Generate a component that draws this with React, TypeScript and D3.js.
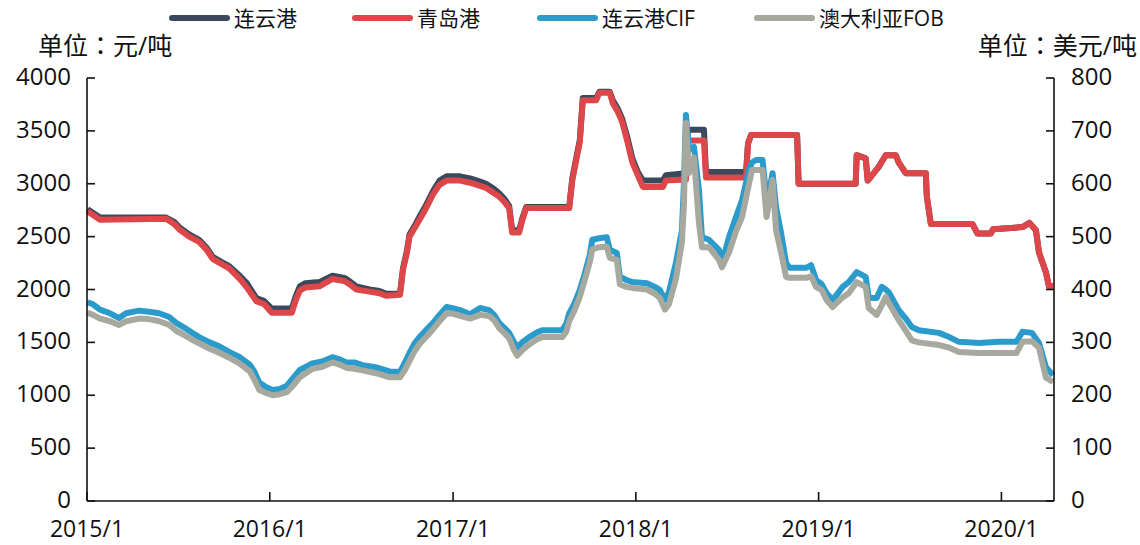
import React from 'react';
import * as d3 from 'd3';

// ---------- data ----------
const domesticDates = [
  '2015-01-02','2015-01-27','2015-06-08','2015-06-24','2015-07-04','2015-07-24','2015-08-13','2015-08-27',
  '2015-09-09','2015-09-27','2015-10-12','2015-11-02','2015-11-16','2015-12-05','2015-12-21','2016-01-05',
  '2016-02-14','2016-02-22','2016-03-01','2016-03-12','2016-04-09','2016-05-05','2016-05-29','2016-06-08',
  '2016-06-22','2016-07-18','2016-08-07','2016-08-21','2016-09-17','2016-09-23','2016-10-01','2016-10-06',
  '2016-10-16','2016-10-26','2016-11-06','2016-11-22','2016-12-05','2016-12-19','2017-01-15','2017-02-04',
  '2017-02-24','2017-03-08','2017-03-24','2017-04-03','2017-04-13','2017-04-23','2017-04-29','2017-05-13',
  '2017-05-19','2017-05-27','2017-08-21','2017-08-27','2017-09-05','2017-09-11','2017-09-17','2017-10-14',
  '2017-10-20','2017-11-10','2017-11-16','2017-11-26','2017-12-05','2017-12-15','2017-12-25','2018-01-05',
  '2018-01-15','2018-02-24','2018-03-02','2018-04-11','2018-04-15','2018-05-17','2018-05-21','2018-08-09',
  '2018-08-13','2018-08-19','2018-11-19','2018-11-22','2019-03-16','2019-03-18','2019-04-05','2019-04-09',
  '2019-05-01','2019-05-15','2019-06-04','2019-06-10','2019-06-24','2019-08-03','2019-08-05','2019-08-13',
  '2019-11-04','2019-11-14','2019-12-11','2019-12-15','2020-02-12','2020-02-26','2020-03-10','2020-03-16',
  '2020-03-30','2020-04-05','2020-04-13',
];
// 连云港 (元/吨)
const lianyungangValues = [
  2760,2680,2680,2640,2590,2520,2470,2400,
  2310,2260,2220,2130,2060,1920,1890,1820,
  1820,1940,2030,2060,2070,2130,2110,2080,
  2030,2000,1985,1960,1960,2200,2370,2520,
  2600,2690,2780,2930,3030,3070,3070,3050,
  3020,3000,2950,2910,2860,2790,2560,2560,
  2670,2780,2780,3050,3270,3410,3810,3810,
  3870,3870,3790,3710,3610,3440,3240,3110,
  3030,3030,3080,3100,3510,3510,3110,3110,
  3380,3460,3460,3000,3000,3270,3240,3030,
  3160,3270,3270,3200,3100,3100,2880,2620,
  2620,2530,2530,2570,2590,2630,2560,2350,
  2160,2030,2030,
];
// 青岛港 (元/吨)
const qingdaoValues = [
  2740,2660,2670,2620,2570,2500,2450,2380,
  2290,2240,2200,2100,2020,1890,1860,1780,
  1780,1900,1990,2020,2030,2100,2080,2050,
  2000,1980,1965,1940,1950,2190,2350,2500,
  2580,2660,2750,2900,2990,3030,3030,3010,
  2980,2960,2910,2880,2830,2770,2540,2540,
  2650,2770,2770,3030,3250,3390,3790,3790,
  3860,3860,3760,3680,3580,3400,3200,3080,
  2970,2970,3030,3040,3410,3410,3060,3060,
  3380,3460,3460,3000,3000,3270,3240,3030,
  3160,3270,3270,3200,3100,3100,2880,2620,
  2620,2530,2530,2570,2590,2630,2560,2350,
  2160,2030,2030,
];

const importDates = [
  '2015-01-02','2015-01-13','2015-01-27','2015-02-16','2015-03-06','2015-03-20','2015-04-15','2015-05-05',
  '2015-05-25','2015-06-14','2015-06-28','2015-07-14','2015-07-30','2015-08-13','2015-09-03','2015-09-23',
  '2015-10-12','2015-11-02','2015-11-22','2015-12-01','2015-12-11','2015-12-25','2016-01-07','2016-01-21',
  '2016-02-04','2016-02-16','2016-03-01','2016-03-26','2016-04-15','2016-05-05','2016-05-19','2016-06-02',
  '2016-06-18','2016-07-04','2016-07-24','2016-08-07','2016-08-27','2016-09-17','2016-09-27','2016-10-06',
  '2016-10-16','2016-10-26','2016-11-10','2016-11-22','2016-12-05','2016-12-19','2017-01-02','2017-01-15',
  '2017-02-04','2017-02-24','2017-03-14','2017-03-24','2017-04-03','2017-04-13','2017-04-23','2017-05-03',
  '2017-05-09','2017-05-19','2017-06-02','2017-06-16','2017-06-28','2017-08-07','2017-08-15','2017-08-21',
  '2017-09-01','2017-09-11','2017-09-21','2017-10-01','2017-10-06','2017-10-20','2017-11-04','2017-11-10',
  '2017-11-24','2017-11-30','2017-12-13','2017-12-25','2018-01-23','2018-02-08','2018-02-18','2018-02-28',
  '2018-03-08','2018-03-22','2018-04-03','2018-04-07','2018-04-11','2018-04-17','2018-04-27','2018-05-07',
  '2018-05-13','2018-05-27','2018-06-16','2018-06-22','2018-07-06','2018-07-20','2018-08-01','2018-08-15',
  '2018-08-21','2018-08-29','2018-09-11','2018-09-19','2018-09-25','2018-10-01','2018-10-08','2018-10-18',
  '2018-10-28','2018-11-04','2018-12-07','2018-12-17','2018-12-27','2019-01-07','2019-01-17','2019-01-29',
  '2019-02-18','2019-03-02','2019-03-18','2019-04-05','2019-04-11','2019-04-27','2019-05-07','2019-05-15',
  '2019-05-21','2019-06-10','2019-06-24','2019-07-06','2019-07-20','2019-08-29','2019-09-19','2019-10-08',
  '2019-11-18','2019-12-27','2020-01-31','2020-02-12','2020-03-02','2020-03-16','2020-03-30','2020-04-13',
];
// 连云港CIF (美元/吨)
const lianyungangCifValues = [
  376,372,362,355,346,355,360,358,
  355,348,337,328,318,310,300,292,
  282,272,258,245,224,215,210,212,
  218,232,248,260,264,272,268,262,
  262,257,254,251,245,244,262,280,
  298,310,325,337,352,367,364,361,
  353,365,361,352,337,328,318,300,
  290,300,310,318,323,323,335,355,
  375,399,430,465,494,497,499,475,
  469,424,418,414,412,405,399,380,
  395,450,512,600,730,664,670,588,
  499,494,475,450,499,537,569,626,
  640,645,645,569,590,620,556,507,
  450,441,441,446,418,410,393,380,
  405,414,433,424,384,384,405,400,
  395,361,345,329,323,318,310,301,
  299,301,301,320,318,299,253,238,
];
// 澳大利亚FOB (美元/吨)
const australiaFobValues = [
  356,352,345,340,333,340,345,344,
  340,333,322,314,305,298,288,280,
  271,260,245,230,210,204,200,202,
  206,218,234,250,254,262,258,252,
  250,247,243,240,234,234,248,265,
  283,297,312,325,340,355,354,350,
  345,352,350,342,327,318,308,285,
  275,285,296,305,310,310,320,340,
  362,386,418,452,476,480,481,460,
  456,410,405,403,400,392,384,362,
  372,420,490,560,715,620,650,526,
  480,480,456,442,470,510,537,600,
  626,626,626,537,570,607,512,470,
  424,422,422,425,405,399,380,367,
  385,393,414,405,365,352,370,386,
  375,342,322,304,300,295,290,282,
  280,280,280,301,302,290,233,225,
];

const leftTicks = [0, 500, 1000, 1500, 2000, 2500, 3000, 3500, 4000];
const rightTicks = [0, 100, 200, 300, 400, 500, 600, 700, 800];
const xTickDates = ['2015-01-01', '2016-01-01', '2017-01-01', '2018-01-01', '2019-01-01', '2020-01-01'];
const xTickLabels = ['2015/1', '2016/1', '2017/1', '2018/1', '2019/1', '2020/1'];

const seriesNames = ['连云港', '青岛港', '连云港CIF', '澳大利亚FOB'];
const seriesColors = ['#3a4a5c', '#dd474a', '#2b9bcc', '#a7a99f'];

// ---------- layout ----------
const W = 1140;
const H = 545;
const X0 = 87;
const X1 = 1054;
const YTOP = 78;
const YBOT = 501;
const FONT = '"Open Sans", "Noto Sans CJK SC", sans-serif';
const COLON_FONT = '"Noto Sans CJK TC", "Noto Sans CJK SC", sans-serif';

type Pt = { d: Date; v: number };

export default function App() {
  const parse = d3.timeParse('%Y-%m-%d');
  const x = d3
    .scaleTime()
    .domain([parse('2015-01-01') as Date, parse('2020-04-15') as Date])
    .range([X0, X1]);
  const yL = d3.scaleLinear().domain([0, 4000]).range([YBOT, YTOP]);
  const yR = d3.scaleLinear().domain([0, 800]).range([YBOT, YTOP]);

  const mk = (dates: string[], vals: number[]): Pt[] =>
    dates.map((d, i) => ({ d: parse(d) as Date, v: vals[i] }));

  const lineL = d3
    .line<Pt>()
    .x((p) => x(p.d))
    .y((p) => yL(p.v))
    .curve(d3.curveLinear);
  const lineR = d3
    .line<Pt>()
    .x((p) => x(p.d))
    .y((p) => yR(p.v))
    .curve(d3.curveLinear);

  const paths = [
    lineL(mk(domesticDates, lianyungangValues)),
    lineL(mk(domesticDates, qingdaoValues)),
    lineR(mk(importDates, lianyungangCifValues)),
    lineR(mk(importDates, australiaFobValues)),
  ];

  const legendX = [172, 355, 540, 757];

  return (
    <svg
      width={W}
      height={H}
      style={{ position: 'absolute', left: 0, top: 0, background: '#fff' }}
      fontFamily={FONT}
    >
      <rect x={0} y={0} width={W} height={H} fill="#fff" />
      {/* legend */}
      {seriesNames.map((n, i) => (
        <g key={n}>
          <line
            x1={legendX[i]}
            x2={legendX[i] + 55}
            y1={18}
            y2={18}
            stroke={seriesColors[i]}
            strokeWidth={6}
            strokeLinecap="round"
          />
          <text x={legendX[i] + 62} y={26} fontSize={21} fill="#111">
            {n}
          </text>
        </g>
      ))}
      {/* unit titles */}
      <text x={38} y={55} fontSize={25} fill="#111">
        单位<tspan fontFamily={COLON_FONT}>：</tspan>元/吨
      </text>
      <text x={1137} y={55} fontSize={25} fill="#111" textAnchor="end">
        单位<tspan fontFamily={COLON_FONT}>：</tspan>美元/吨
      </text>

      {/* series */}
      {paths.map((p, i) => (
        <path
          key={i}
          d={p || ''}
          fill="none"
          stroke={seriesColors[i]}
          strokeWidth={6}
          strokeLinejoin="round"
        />
      ))}

      {/* axes */}
      <g stroke="#111" strokeWidth={1.6} fill="none">
        <line x1={X0} x2={X0} y1={YTOP} y2={YBOT} />
        <line x1={X1} x2={X1} y1={YTOP} y2={YBOT} />
        <line x1={X0} x2={X1} y1={YBOT} y2={YBOT} />
        {leftTicks.map((t) => (
          <line key={'l' + t} x1={X0} x2={X0 + 8} y1={yL(t)} y2={yL(t)} />
        ))}
        {rightTicks.map((t) => (
          <line key={'r' + t} x1={X1 - 8} x2={X1} y1={yR(t)} y2={yR(t)} />
        ))}
        {xTickDates.map((d) => {
          const xx = x(parse(d) as Date);
          return <line key={d} x1={xx} x2={xx} y1={YBOT} y2={YBOT - 9} />;
        })}
      </g>
      {leftTicks.map((t) => (
        <text key={'lt' + t} x={71} y={yL(t) + 7} fontSize={24} textAnchor="end" fill="#111">
          {t}
        </text>
      ))}
      {rightTicks.map((t) => (
        <text key={'rt' + t} x={1071} y={yR(t) + 7} fontSize={24} fill="#111">
          {t}
        </text>
      ))}
      {xTickDates.map((d, i) => (
        <text
          key={'xt' + d}
          x={x(parse(d) as Date)}
          y={537}
          fontSize={23}
          textAnchor="middle"
          fill="#111"
        >
          {xTickLabels[i]}
        </text>
      ))}
    </svg>
  );
}
